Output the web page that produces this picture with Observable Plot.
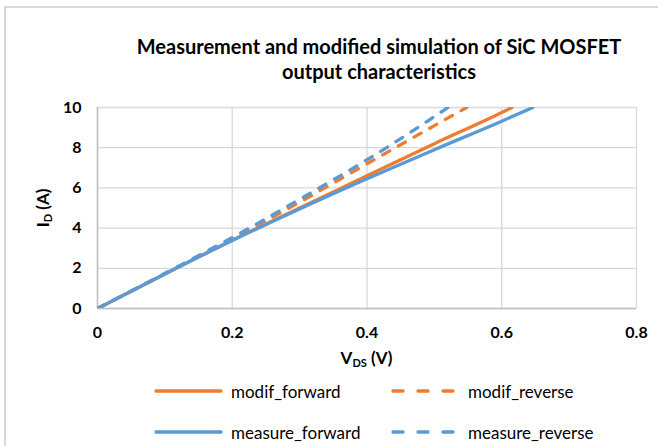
<!DOCTYPE html>
<html>
<head>
<meta charset="utf-8">
<script src="https://cdn.jsdelivr.net/npm/d3@7"></script>
<script src="https://cdn.jsdelivr.net/npm/@observablehq/plot@0.6"></script>
<style>
  html, body { margin: 0; padding: 0; background: #fff; }
  #wrap { position: relative; width: 658px; height: 446px; overflow: hidden; font-family: Lato, "Open Sans", sans-serif; }
  #border { position: absolute; left: 4px; top: 6px; width: 700px; height: 500px; border-left: 2px solid #D9D9D9; border-top: 2px solid #D9D9D9; }
  #title { position: absolute; left: 100px; width: 558px; top: 34px; text-align: center; font-weight: bold; font-size: 20px; line-height: 25px; color: #000; }
  #chart { position: absolute; left: 0; top: 0; }
  .leg { position: absolute; font-size: 17px; color: #000; display: flex; align-items: center; }
  .leg svg { margin-right: 7px; }
</style>
</head>
<body>
<div id="wrap">
  <div id="border"></div>
  <div id="title">Measurement and modified simulation of SiC MOSFET<br>output characteristics</div>
  <div id="chart"></div>
  <div id="legend"></div>
</div>
<script>
// Data (V_DS in V, I_D in A)
const modifForwardV   = [0, 0.1, 0.2, 0.3, 0.4, 0.5, 0.6, 0.615];
const modifForwardI   = [0, 1.72, 3.40, 5.00, 6.60, 8.20, 9.75, 10.0];
const modifReverseV   = [0, 0.1, 0.2, 0.3, 0.4, 0.5, 0.548];
const modifReverseI   = [0, 1.72, 3.45, 5.29, 7.20, 9.10, 10.0];
const measureForwardV = [0, 0.1, 0.2, 0.3, 0.4, 0.5, 0.6, 0.646];
const measureForwardI = [0, 1.72, 3.38, 4.95, 6.45, 7.90, 9.32, 10.0];
const measureReverseV = [0, 0.1, 0.2, 0.3, 0.4, 0.45, 0.5, 0.52];
const measureReverseI = [0, 1.75, 3.53, 5.43, 7.40, 8.45, 9.55, 10.0];

const seriesNames  = ["modif_forward", "modif_reverse", "measure_forward", "measure_reverse"];
const seriesColors = ["#ED7D31", "#ED7D31", "#5B9BD5", "#5B9BD5"];
const seriesDashed = [false, true, false, true];

const xTicks = [0, 0.2, 0.4, 0.6, 0.8];
const yTicks = [0, 2, 4, 6, 8, 10];

const toRows = (vs, is) => vs.map((v, k) => ({v, i: is[k]}));
const series = [
  toRows(modifForwardV, modifForwardI),
  toRows(modifReverseV, modifReverseI),
  toRows(measureForwardV, measureForwardI),
  toRows(measureReverseV, measureReverseI)
];

const lineMarks = series.map((rows, k) => Plot.line(rows, {
  x: "v", y: "i",
  stroke: seriesColors[k],
  strokeWidth: 3.3,
  strokeDasharray: seriesDashed[k] ? "8,10" : null,
  strokeLinecap: "round",
  curve: "monotone-x",
  clip: true
}));

const fmtX = d => d === 0 ? "0" : String(d);

const plot = Plot.plot({
  width: 658,
  height: 446,
  marginLeft: 97,
  marginRight: 22,
  marginTop: 107,
  marginBottom: 138,
  style: { fontFamily: "Lato, 'Open Sans', sans-serif", background: "transparent", overflow: "visible" },
  x: { domain: [0, 0.8], ticks: xTicks, tickFormat: fmtX, label: null },
  y: { domain: [0, 10], ticks: yTicks, label: null },
  marks: [
    Plot.gridX(xTicks, { stroke: "#D9D9D9", strokeOpacity: 1, strokeWidth: 1.3 }),
    Plot.gridY(yTicks, { stroke: "#D9D9D9", strokeOpacity: 1, strokeWidth: 1.3 }),
    Plot.ruleX([0], { stroke: "#BFBFBF", strokeWidth: 1.5 }),
    Plot.ruleY([0], { stroke: "#BFBFBF", strokeWidth: 1.5 }),
    Plot.axisX({ ticks: xTicks, tickFormat: fmtX, tickSize: 0, tickPadding: 18, fontSize: 16, fontWeight: "bold", label: null }),
    Plot.axisY({ ticks: yTicks, tickSize: 0, tickPadding: 16, fontSize: 16, fontWeight: "bold", label: null }),
    ...lineMarks
  ]
});

d3.select(plot).selectAll("[aria-label='x-axis tick label'], [aria-label='y-axis tick label']")
  .attr("fill", "#000").attr("font-weight", "bold");

// Axis titles with subscripts
const svg = d3.select(plot);
const xt = svg.append("text")
  .attr("x", 366.5).attr("y", 364)
  .attr("text-anchor", "middle")
  .attr("font-size", 17).attr("font-weight", "bold").attr("fill", "#000");
xt.append("tspan").text("V");
xt.append("tspan").attr("font-size", 11).attr("dy", 3).text("DS");
xt.append("tspan").attr("dy", -3).text(" (V)");

const yt = svg.append("text")
  .attr("transform", "translate(49,208) rotate(-90)")
  .attr("text-anchor", "middle")
  .attr("font-size", 17).attr("font-weight", "bold").attr("fill", "#000");
yt.append("tspan").text("I");
yt.append("tspan").attr("font-size", 11).attr("dy", 3).text("D");
yt.append("tspan").attr("dy", -3).text(" (A)");

document.getElementById("chart").appendChild(plot);

// Legend
const legendPos = [
  {left: 152, top: 380},
  {left: 389, top: 380},
  {left: 152, top: 421},
  {left: 389, top: 421}
];
const legend = document.getElementById("legend");
seriesNames.forEach((name, k) => {
  const div = document.createElement("div");
  div.className = "leg";
  div.style.left = legendPos[k].left + "px";
  div.style.top = legendPos[k].top + "px";
  const ns = "http://www.w3.org/2000/svg";
  const s = document.createElementNS(ns, "svg");
  s.setAttribute("width", 72); s.setAttribute("height", 22);
  const l = document.createElementNS(ns, "line");
  l.setAttribute("x1", 4); l.setAttribute("x2", 69);
  l.setAttribute("y1", 11); l.setAttribute("y2", 11);
  l.setAttribute("stroke", seriesColors[k]);
  l.setAttribute("stroke-width", 3.3);
  l.setAttribute("stroke-linecap", "round");
  if (seriesDashed[k]) l.setAttribute("stroke-dasharray", "10,15");
  s.appendChild(l);
  div.appendChild(s);
  const t = document.createElement("span");
  t.textContent = name;
  div.appendChild(t);
  legend.appendChild(div);
});
</script>
</body>
</html>
